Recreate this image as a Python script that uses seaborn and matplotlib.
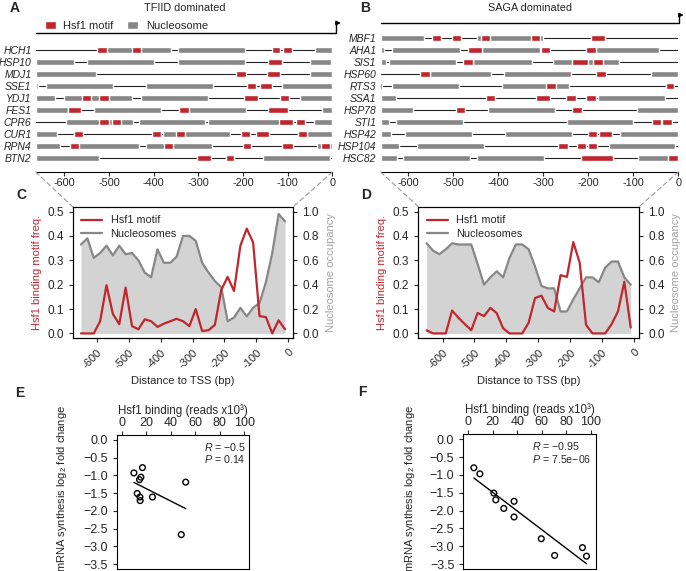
import numpy as np
import matplotlib
matplotlib.use('Agg')
import matplotlib.pyplot as plt
from matplotlib.lines import Line2D
from matplotlib.patches import Patch, ConnectionPatch
import seaborn as sns

RED = '#c0272d'
GRAY = '#878787'
FILL = '#d3d3d3'
W, H = 686, 571

# Panel A: TFIID dominated promoters (bp relative to TSS)
tfiid_genes = ['HCH1', 'HSP10', 'MDJ1', 'SSE1', 'YDJ1', 'FES1', 'CPR6', 'CUR1', 'RPN4', 'BTN2']
tfiid_nucs = [
    [(-526, -360), (-345, -196), (-39, 0)],
    [(-664, -578), (-549, -399), (-345, -196), (-51, 0)],
    [(-664, -529), (-50, 0)],
    [(-664, -658), (-640, -490), (-416, -266), (-113, 0)],
    [(-664, -621), (-600, -449), (-428, -278), (-72, 0)],
    [(-664, -591), (-534, -384), (-343, -193), (-24, 0)],
    [(-597, -447), (-433, -285), (-278, -117), (-40, 0)],
    [(-664, -617), (-378, -229), (-56, 0)],
    [(-664, -610), (-587, -433), (-418, -269), (-35, 0)],
    [(-664, -522), (-156, -5)],
]
tfiid_motifs = [
    [(-526, -505), (-449, -428), (-136, -117), (-110, -90)],
    [(-143, -112), (-3, 0)],
    [(-216, -194), (-147, -117)],
    [(-192, -171), (-162, -134)],
    [(-561, -540), (-522, -501), (-197, -166), (-116, -96)],
    [(-591, -563), (-343, -320), (-143, -99)],
    [(-522, -501), (-493, -472), (-119, -89), (-81, -61)],
    [(-578, -557), (-404, -384), (-351, -330), (-205, -184), (-171, -141), (-76, -56)],
    [(-587, -567), (-376, -356), (-201, -181), (-113, -87), (-26, -5)],
    [(-304, -272), (-239, -219)],
]

# Panel B: SAGA dominated promoters
saga_genes = ['MBF1', 'AHA1', 'SIS1', 'HSP60', 'RTS3', 'SSA1', 'HSP78', 'STI1',
              'HSP42', 'HSP104', 'HSC82']
saga_nucs = [
    [(-661, -564), (-448, -300)],
    [(-661, -653), (-635, -485), (-435, -307), (-183, -42)],
    [(-661, -650), (-643, -494), (-457, -324), (-278, -131)],
    [(-552, -416), (-387, -239), (-61, 0)],
    [(-637, -487), (-391, -242)],
    [(-661, -627), (-178, -30)],
    [(-661, -590), (-422, -274), (-91, 0)],
    [(-661, -643), (-626, -478), (-248, -100)],
    [(-661, -639), (-607, -459), (-384, -236), (-130, 0)],
    [(-661, -620), (-580, -432), (-153, -7)],
    [(-661, -624), (-611, -463), (-447, -299), (-90, 0)],
]
saga_motifs = [
    [(-546, -526), (-502, -483), (-439, -419), (-328, -307), (-193, -163)],
    [(-467, -435), (-305, -285), (-204, -183)],
    [(-478, -457), (-235, -201), (-189, -168)],
    [(-574, -552), (-183, -161)],
    [(-663, -659), (-294, -272), (-28, -9)],
    [(-428, -407), (-316, -285), (-250, -228), (-204, -183)],
    [(-493, -473), (-235, -213)],
    [(-59, -39), (-37, -15)],
    [(-200, -180), (-176, -148)],
    [(-268, -246), (-224, -205), (-200, -181)],
    [(-216, -146), (-22, -1)],
]

# Panels C/D: binned profiles
bins = [-650, -630, -610, -590, -570, -550, -530, -510, -490, -470, -450,
        -430, -410, -390, -370, -350, -330, -310, -290, -270, -250, -230,
        -210, -190, -170, -150, -130, -110, -90, -70, -50, -30, -10]
tfiid_motif_freq = [0.0, 0.0, 0.0, 0.05, 0.198, 0.08, 0.038, 0.188, 0.03, 0.017, 0.058,
                    0.05, 0.027, 0.04, 0.05, 0.06, 0.05, 0.03, 0.10, 0.01, 0.013, 0.035,
                    0.178, 0.232, 0.174, 0.36, 0.43, 0.373, 0.071, 0.067, 0.0, 0.054, 0.017]
tfiid_nuc_occ = [0.73, 0.78, 0.62, 0.66, 0.72, 0.64, 0.72, 0.65, 0.66, 0.60, 0.50,
                 0.46, 0.69, 0.58, 0.58, 0.63, 0.80, 0.80, 0.76, 0.58, 0.50, 0.43,
                 0.38, 0.10, 0.13, 0.21, 0.14, 0.21, 0.25, 0.42, 0.66, 0.98, 0.92]
saga_motif_freq = [0.013, 0.0, 0.0, 0.0, 0.094, 0.064, 0.038, 0.013, 0.084, 0.071, 0.105,
                   0.083, 0.021, 0.0, 0.0, 0.0, 0.044, 0.145, 0.155, 0.105, 0.09, 0.239,
                   0.232, 0.375, 0.29, 0.035, 0.0, 0.0, 0.0, 0.038, 0.09, 0.212, 0.024]
saga_nuc_occ = [0.74, 0.68, 0.65, 0.69, 0.74, 0.73, 0.73, 0.73, 0.57, 0.40, 0.46,
                0.51, 0.46, 0.62, 0.73, 0.73, 0.69, 0.55, 0.39, 0.37, 0.37, 0.18,
                0.18, 0.28, 0.37, 0.46, 0.46, 0.42, 0.54, 0.59, 0.59, 0.46, 0.40]

# Panels E/F: Hsf1 binding vs mRNA synthesis
tfiid_binding = [10.0, 17.0, 15.7, 14.6, 12.7, 14.9, 15.1, 25.1, 52.2, 48.6]
tfiid_mrna = [-0.93, -0.78, -1.05, -1.12, -1.51, -1.61, -1.71, -1.61, -1.19, -2.67]
saga_binding = [4.6, 9.5, 20.9, 22.5, 29.0, 37.4, 37.4, 59.6, 70.5, 93.2, 96.5]
saga_mrna = [-0.80, -0.97, -1.51, -1.70, -1.94, -1.74, -2.18, -2.79, -3.26, -3.04, -3.28]

bp_ticks = [-600, -500, -400, -300, -200, -100, 0]
bp_labels = ['-600', '-500', '-400', '-300', '-200', '-100', '0']

sns.set_style('ticks')
plt.rcParams['font.family'] = ['Liberation Sans', 'DejaVu Sans']
plt.rcParams['font.size'] = 8
plt.rcParams['mathtext.fontset'] = 'custom'
plt.rcParams['mathtext.rm'] = 'Liberation Sans'
plt.rcParams['mathtext.it'] = 'Liberation Sans:italic'
plt.rcParams['axes.edgecolor'] = 'black'
plt.rcParams['axes.linewidth'] = 0.8
plt.rcParams['xtick.major.width'] = 0.8
plt.rcParams['ytick.major.width'] = 0.8
plt.rcParams['xtick.major.size'] = 3
plt.rcParams['ytick.major.size'] = 3

fig = plt.figure(figsize=(W / 100, H / 100), dpi=100)


def px_axes(left, top, right, bottom):
    return fig.add_axes([left / W, 1 - bottom / H, (right - left) / W, (bottom - top) / H])


def draw_tracks(ax, genes, nucs, motifs, top_row, xmin, line_y, arrow_y, arrow_x):
    rows = [top_row + 12 * i for i in range(len(genes))]
    for y, nuc, mot in zip(rows, nucs, motifs):
        ax.plot([xmin, 0], [y, y], color='#222222', lw=0.8, zorder=1)
        ax.broken_barh([(a, b - a) for a, b in nuc], (y - 3.2, 6.4), facecolor=GRAY, zorder=2)
        ax.broken_barh([(a, b - a) for a, b in mot], (y - 3.2, 6.4), facecolor=RED, zorder=3)
    ax.set_yticks(rows, genes, style='italic', fontsize=7.5)
    ax.tick_params(axis='y', length=0, pad=3)
    ax.set_xlim(xmin, 0)
    ax.set_ylim(172, 5)
    ax.set_xticks(bp_ticks, bp_labels, fontsize=7.8)
    ax.tick_params(axis='x', pad=1.5)
    for s in ['top', 'left', 'right']:
        ax.spines[s].set_visible(False)
    ax.patch.set_visible(False)
    # TSS arrow
    ax.plot([xmin, arrow_x, arrow_x], [line_y, line_y, arrow_y], color='black',
            lw=1, clip_on=False)
    ax.annotate('', xy=(arrow_x + 11, arrow_y), xytext=(arrow_x, arrow_y),
                arrowprops=dict(arrowstyle='-|>', color='black', lw=1,
                                mutation_scale=6, shrinkA=0, shrinkB=0),
                annotation_clip=False)


def draw_profile(ax, freq, occ):
    ax2 = ax.twinx()
    ax2.fill_between(bins, occ, 0, color=FILL, lw=0)
    sns.lineplot(x=bins, y=occ, ax=ax2, color=GRAY, lw=1.6)
    sns.lineplot(x=bins, y=freq, ax=ax, color=RED, lw=1.6)
    ax.set_zorder(ax2.get_zorder() + 1)
    ax.patch.set_visible(False)
    ax.set_xlim(-676, 16)
    ax.set_ylim(-0.02, 0.52)
    ax2.set_ylim(-0.04, 1.04)
    ax.set_yticks([0, 0.1, 0.2, 0.3, 0.4, 0.5],
                  ['0.0', '0.1', '0.2', '0.3', '0.4', '0.5'], fontsize=8.5)
    ax2.set_yticks([0, 0.2, 0.4, 0.6, 0.8, 1.0],
                   ['0.0', '0.2', '0.4', '0.6', '0.8', '1.0'], fontsize=8.5)
    ax.set_xticks(bp_ticks, bp_labels, rotation=45, ha='right', rotation_mode='anchor',
                  fontsize=8)
    ax.set_ylabel('Hsf1 binding motif freq.', color=RED, labelpad=4)
    ax2.set_ylabel('Nucleosome occupancy', color='#a3a3a3', labelpad=5)
    ax.set_xlabel('Distance to TSS (bp)', labelpad=4)
    handles = [Line2D([0], [0], color=RED, lw=1.6, label='Hsf1 motif'),
               Line2D([0], [0], color=GRAY, lw=1.6, label='Nucleosomes')]
    ax.legend(handles=handles, loc='upper left', frameon=False, fontsize=7.8,
              handlelength=1.9, borderaxespad=0.4, labelspacing=0.35)


def draw_scatter(ax, x, y, r_text, p_text, text_x, label_x):
    sns.regplot(x=x, y=y, ax=ax, scatter=False, ci=None, truncate=True,
                color='black', line_kws=dict(lw=1))
    sns.scatterplot(x=x, y=y, ax=ax, s=17, facecolor='none', edgecolor='black',
                    linewidth=1, zorder=3)
    ax.set_xlim(-4, 104)
    ax.set_ylim(-3.64, 0.14)
    ax.xaxis.tick_top()
    ax.xaxis.set_label_position('top')
    ax.set_xticks([0, 20, 40, 60, 80, 100])
    ax.set_yticks([0.0, -0.5, -1.0, -1.5, -2.0, -2.5, -3.0, -3.5])
    ax.tick_params(labelsize=9)
    ax.tick_params(axis='x', pad=1.5)
    ax.set_xlabel('Hsf1 binding (reads x10³)', labelpad=2, fontsize=8.3)
    ax.set_ylabel(r'mRNA synthesis log$_2$ fold change', fontsize=8)
    ax.yaxis.set_label_coords(label_x, 0.6)
    ax.text(text_x, 0.91, r'$\mathit{R}$ = ' + r_text, transform=ax.transAxes,
            ha='left', va='center', fontsize=7.7)
    ax.text(text_x, 0.82, r'$\mathit{P}$ = ' + p_text, transform=ax.transAxes,
            ha='left', va='center', fontsize=7.7)


ax_a = px_axes(35.7, 5, 332.3, 172)
draw_tracks(ax_a, tfiid_genes, tfiid_nucs, tfiid_motifs, 50, -664, 33, 23, 8)
ax_a.legend(handles=[Patch(facecolor=RED, label='Hsf1 motif'),
                     Patch(facecolor=GRAY, label='Nucleosome')],
            loc='center left', bbox_to_anchor=(0.015, 0.874), ncol=2, frameon=False,
            fontsize=8, handlelength=1.0, handleheight=0.7, columnspacing=1.2,
            handletextpad=0.7, borderaxespad=0)

ax_b = px_axes(380.7, 5, 678.3, 172)
draw_tracks(ax_b, saga_genes, saga_nucs, saga_motifs, 38, -661, 23, 15, 1)

ax_c = px_axes(72.7, 206.7, 293.3, 338.3)
draw_profile(ax_c, tfiid_motif_freq, tfiid_nuc_occ)
ax_d = px_axes(418.3, 206.7, 639, 338.3)
draw_profile(ax_d, saga_motif_freq, saga_nuc_occ)

ax_e = px_axes(116.7, 435, 249.3, 569)
draw_scatter(ax_e, tfiid_binding, tfiid_mrna, '−0.5', '0.14', 0.655, -0.36)
ax_f = px_axes(463.3, 434.3, 595.7, 569)
draw_scatter(ax_f, saga_binding, saga_mrna, '−0.95', '7.5e−06', 0.52, -0.35)

# dashed zoom connectors from track axes to profile axes
for top, prof in [(ax_a, ax_c), (ax_b, ax_d)]:
    x0, x1 = top.get_xlim()
    for xa, xb in [(x0, 0), (x1, 1)]:
        con = ConnectionPatch(xyA=(xa, 172), coordsA=top.transData,
                              xyB=(xb, 1), coordsB=prof.transAxes,
                              color='#9a9a9a', lw=0.8, ls=(0, (4, 3)))
        fig.add_artist(con)

for letter, x, y in [('A', 15, 8), ('B', 365, 8), ('C', 21, 195), ('D', 366, 195),
                     ('E', 20, 393), ('F', 362, 392)]:
    fig.text(x / W, 1 - y / H, letter, weight='bold', fontsize=10, ha='center', va='center')
fig.text(185 / W, 1 - 8 / H, 'TFIID dominated', ha='center', va='center', fontsize=7.8)
fig.text(530 / W, 1 - 8 / H, 'SAGA dominated', ha='center', va='center', fontsize=7.8)

fig.savefig('out.png', dpi=100)
